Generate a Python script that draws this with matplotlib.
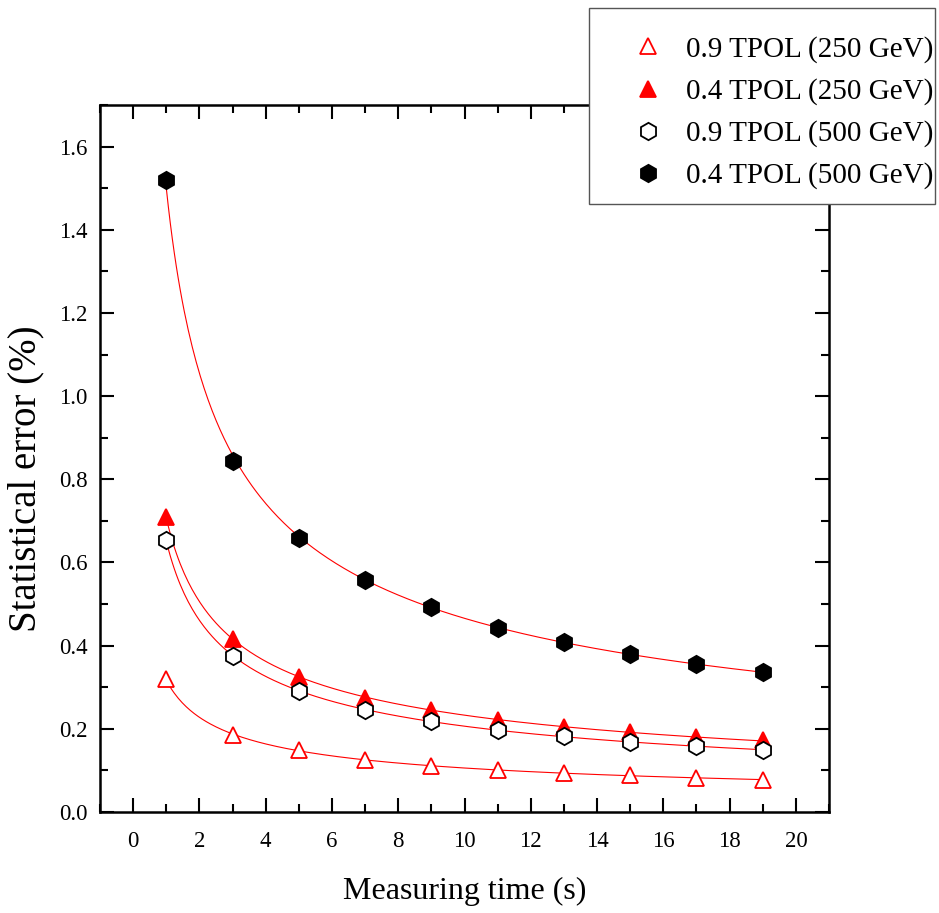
import numpy as np
import matplotlib.pyplot as plt
from matplotlib.ticker import MultipleLocator
from matplotlib.patches import Rectangle

plt.rcParams['font.family'] = ['Liberation Serif', 'DejaVu Serif']

# measured data
t = [1, 3, 5, 7, 9, 11, 13, 15, 17, 19]
tpol09_250 = [0.32, 0.185, 0.148, 0.125, 0.110, 0.100, 0.095, 0.088, 0.082, 0.078]
tpol04_250 = [0.71, 0.415, 0.325, 0.275, 0.245, 0.222, 0.205, 0.192, 0.180, 0.172]
tpol09_500 = [0.655, 0.375, 0.290, 0.245, 0.218, 0.198, 0.182, 0.168, 0.158, 0.150]
tpol04_500 = [1.52, 0.843, 0.660, 0.558, 0.492, 0.443, 0.408, 0.380, 0.357, 0.337]

labels = ['0.9 TPOL (250 GeV)', '0.4 TPOL (250 GeV)',
          '0.9 TPOL (500 GeV)', '0.4 TPOL (500 GeV)']

fig = plt.figure(figsize=(9.39, 9.13), dpi=100)
ax = fig.add_axes([0.1065, 0.1106, 0.7764, 0.7744])

styles = [
    dict(marker='^', ms=11, mfc='white', mec='red', mew=1.3),
    dict(marker='^', ms=11, mfc='red', mec='red', mew=1.3),
    dict(marker='h', ms=12.5, mfc='white', mec='black', mew=1.3),
    dict(marker='h', ms=12.5, mfc='black', mec='black', mew=1.3),
]

tt = np.linspace(1, 19, 300)
handles = []
for y, st, lab in zip([tpol09_250, tpol04_250, tpol09_500, tpol04_500], styles, labels):
    # power-law fit, drawn as thin red line
    b, a = np.polyfit(np.log(t), np.log(y), 1)
    ax.plot(tt, np.exp(a) * tt ** b, color='red', lw=0.8, zorder=1)
    h, = ax.plot(t, y, ls='none', label=lab, zorder=3, **st)
    handles.append(h)

ax.set_xlim(-1, 21)
ax.set_ylim(0, 1.7)
ax.xaxis.set_major_locator(MultipleLocator(2))
ax.xaxis.set_minor_locator(MultipleLocator(1))
ax.yaxis.set_major_locator(MultipleLocator(0.2))
ax.yaxis.set_minor_locator(MultipleLocator(0.1))
ax.yaxis.set_major_formatter(plt.FuncFormatter(lambda v, p: f'{v:.1f}'))
ax.tick_params(which='both', direction='in', top=True, right=True, width=1.5)
ax.tick_params(which='major', length=10, labelsize=16.5)
ax.tick_params(which='minor', length=5.5)
ax.tick_params(axis='x', pad=14)
ax.tick_params(axis='y', pad=9)
for s in ax.spines.values():
    s.set_linewidth(1.8)

ax.set_xlabel('Measuring time (s)', fontsize=23)
ax.set_ylabel('Statistical error (%)', fontsize=28)
ax.xaxis.set_label_coords(0.5, -0.092)
ax.yaxis.set_label_coords(-0.076, 0.472)

# legend frame sits partly outside the axes
fig.add_artist(Rectangle((589 / 939, 1 - 204 / 913), 346 / 939, 196 / 913,
                         transform=fig.transFigure, fc='white', ec='#555555',
                         lw=1.0, zorder=4))
leg = fig.legend(handles=handles, loc='upper right',
                 bbox_to_anchor=(933 / 939, 1 - 36 / 913),
                 fontsize=21, frameon=False, borderpad=0, borderaxespad=0,
                 handletextpad=0.5, labelspacing=0.52, handlelength=1.6)
leg.set_zorder(5)

fig.savefig('out.png', dpi=100)
